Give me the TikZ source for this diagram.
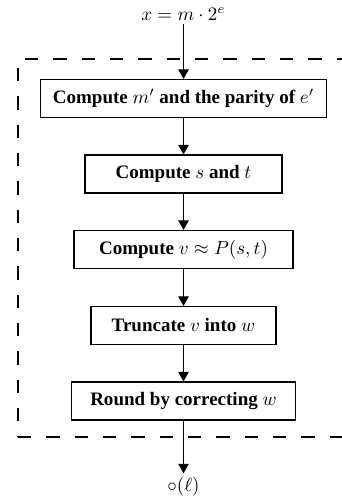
\documentclass[tikz,border=0pt]{standalone}
\usepackage{fontspec}
\setmainfont{Liberation Serif}
\usetikzlibrary{arrows.meta}
\begin{document}
\begin{tikzpicture}[x=0.526pt,y=-0.526pt,
  stepbox/.style={draw,line width=0.6pt,minimum height=20pt,inner xsep=2pt,inner ysep=2pt,font=\bfseries},
  flow/.style={line width=0.6pt,-{Triangle[length=5pt,width=5.5pt]}},
  frame/.style={line width=0.6pt,dash pattern=on 7pt off 7.9pt},
  label/.style={inner sep=2pt}]
\useasboundingbox (0,0) rectangle (342,498);
\node[label] (in) at (183.5,14) {$x = m\cdot 2^e$};
\node[stepbox,minimum width=150pt] (b1) at (183.5,98.5) {Compute $m'$ and the parity of $e'$};
\node[stepbox,minimum width=103.6pt] (b2) at (183.5,174) {Compute $s$ and $t$};
\node[stepbox,minimum width=115.2pt] (b3) at (183.5,249.5) {Compute $v \approx P(s,t)$};
\node[stepbox,minimum width=97.3pt] (b4) at (183.5,325.5) {Truncate $v$ into $w$};
\node[stepbox,minimum width=117.8pt] (b5) at (183.5,401) {Round by correcting $w$};
\node[label] (out) at (183.5,487) {$\circ(\ell)$};
\coordinate (tr) at (342,59);
\coordinate (tl) at (18,59);
\coordinate (bl) at (18,437);
\coordinate (br) at (342,437);
\draw[frame,dash phase=11.2pt] (tl) -- (tr);
\draw[frame] (tl) ++(0,9) -- (bl);
\draw[frame] (bl) -- (br);
\draw[flow] (in) -- (b1);
\draw[flow] (b1) -- (b2);
\draw[flow] (b2) -- (b3);
\draw[flow] (b3) -- (b4);
\draw[flow] (b4) -- (b5);
\draw[flow] (b5) -- (out);
\end{tikzpicture}
\end{document}
